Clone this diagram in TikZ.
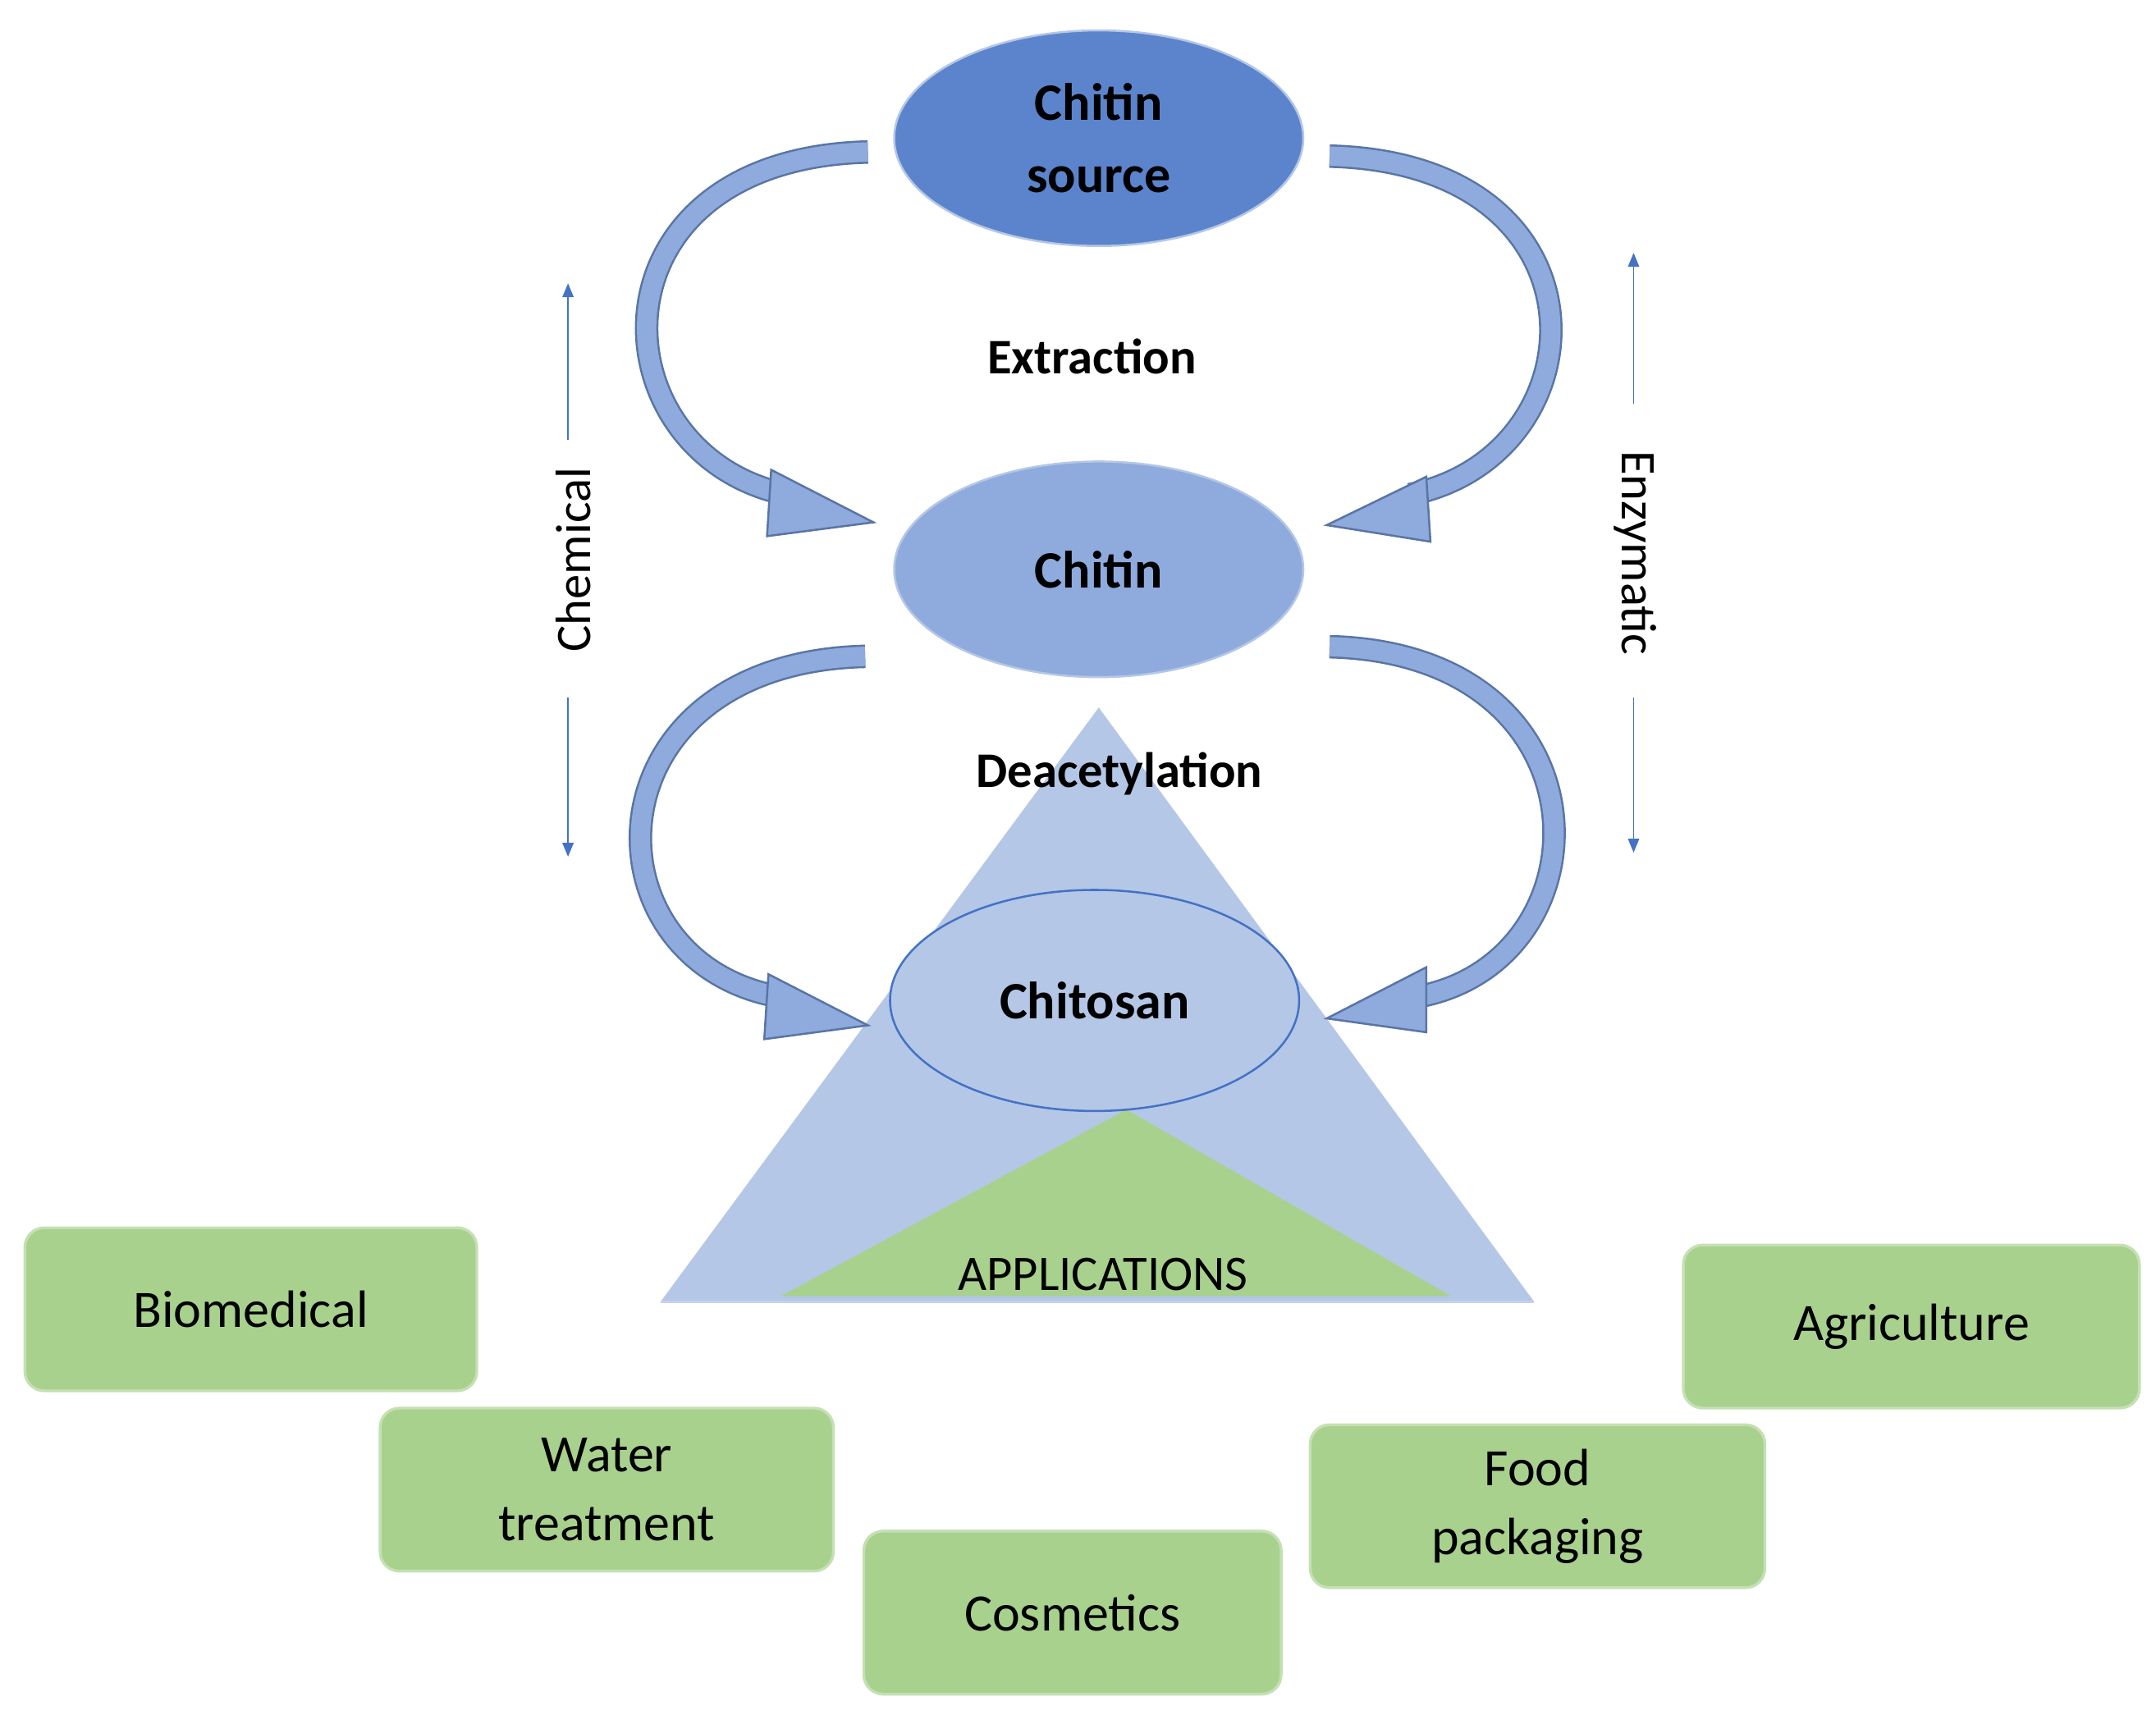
\documentclass[tikz,border=0pt]{standalone}
\usetikzlibrary{arrows.meta,shapes.geometric}
\usepackage{fontspec}
\setmainfont{Carlito}
\definecolor{dblue}{HTML}{5B84CC}
\definecolor{mblue}{HTML}{8FAADC}
\definecolor{lblue}{HTML}{B4C7E7}
\definecolor{edge}{HTML}{4472C4}
\definecolor{arrb}{HTML}{2F528F}
\definecolor{grn}{HTML}{A9D18E}
\definecolor{grnb}{HTML}{C5E0B4}
\begin{document}
\begin{tikzpicture}[x=1pt,y=-1pt,
 box/.style={draw=grnb,line width=2pt,fill=grn,rounded corners=14pt,minimum width=#1,minimum height=118pt,align=center,font=\fontsize{38}{50}\selectfont},
 band/.style={draw=arrb!80,line width=1.5pt,double=mblue,double distance=14pt},
 head/.style={draw=arrb!80,line width=1.5pt,fill=mblue,line join=miter},
 bl/.style={font=\fontsize{36}{48}\selectfont\bfseries},
 side/.style={edge,line width=1pt,-{Triangle[length=10pt,width=8pt]}}]
\useasboundingbox (0,0) rectangle (1560,1241);
% triangles
\fill[lblue] (795,512) -- (1110,942) -- (478,942) -- cycle;
\draw[lblue!80!white,line width=2pt] (478,942) -- (1110,942);
\fill[grn] (815,803) -- (1050,938) -- (565,938) -- cycle;
\node[font=\fontsize{36}{44}\selectfont] (app) at (798,922) {APPLICATIONS};
% ellipses
\node[ellipse,draw=lblue,line width=1.5pt,fill=dblue,minimum width=296pt,minimum height=156pt,align=center,font=\fontsize{38}{52}\selectfont\bfseries] (src) at (795,100) {Chitin\\source};
\node[ellipse,draw=lblue,line width=1.5pt,fill=mblue,minimum width=296pt,minimum height=156pt,font=\fontsize{38}{52}\selectfont\bfseries] (chitin) at (795,412) {Chitin};
\node[ellipse,draw=edge,line width=1.5pt,fill=lblue,minimum width=296pt,minimum height=160pt,font=\fontsize{38}{52}\selectfont\bfseries] (chitosan) at (792,724) {Chitosan};
\node[bl] (ext) at (790,258) {Extraction};
\node[bl] (deac) at (810,560) {Deacetylation};
% curved arrows
\draw[band] (628,110) .. controls (420,115) and (430,330) .. (570,358);
\draw[head] (558,340) -- (632,378) -- (555,388) -- cycle;
\draw[band] (962,113) .. controls (1170,118) and (1160,330) .. (1020,358);
\draw[head] (1032,345) -- (960,380) -- (1035,392) -- cycle;
\draw[band] (626,475) .. controls (420,480) and (420,700) .. (568,722);
\draw[head] (556,705) -- (628,742) -- (553,752) -- cycle;
\draw[band] (962,468) .. controls (1170,473) and (1165,700) .. (1022,722);
\draw[head] (1032,700) -- (960,737) -- (1032,747) -- cycle;
% side labels
\node[rotate=90,font=\fontsize{36}{44}\selectfont] (chem) at (415,405) {Chemical};
\coordinate (c1) at (411,205); \coordinate (c2) at (411,620);
\draw[side] (411,318) -- (c1);
\draw[side] (411,505) -- (c2);
\node[rotate=-90,font=\fontsize{36}{44}\selectfont] (enz) at (1183,400) {Enzymatic};
\coordinate (e1) at (1182,183); \coordinate (e2) at (1182,617);
\draw[side] (1182,292) -- (e1);
\draw[side] (1182,505) -- (e2);
% boxes
\node[box=327pt] (bio) at (181.5,947.5) {Biomedical};
\node[box=328pt] (water) at (439,1078) {Water\\treatment};
\node[box=302pt] (cos) at (776,1167) {Cosmetics};
\node[box=329pt] (food) at (1112.5,1090) {Food\\packaging};
\node[box=330pt] (agri) at (1383,960) {Agriculture};
\end{tikzpicture}
\end{document}
